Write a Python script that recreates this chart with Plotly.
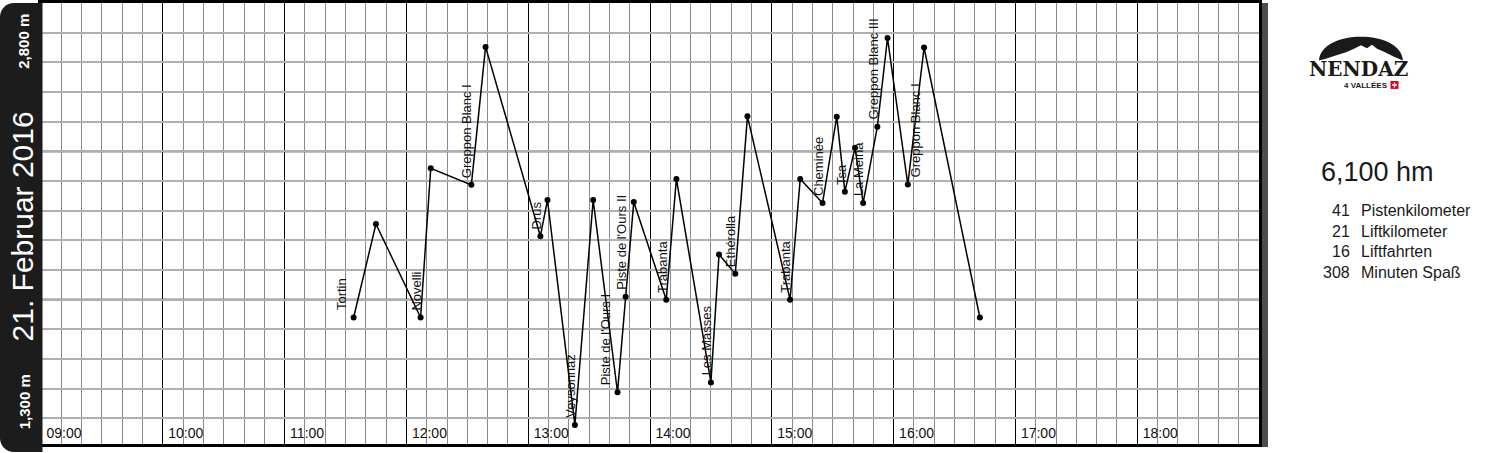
import plotly.graph_objects as go

# ---------------- data ----------------
day = "2016-02-21"
times = ["11:34", "11:45", "12:07", "12:12", "12:32", "12:39", "13:06", "13:09:30",
         "13:23", "13:32", "13:44", "13:48", "13:52", "14:08", "14:13", "14:30",
         "14:34", "14:42", "14:48", "15:09", "15:14", "15:25", "15:32", "15:36",
         "15:41", "15:45", "15:52", "15:57", "16:07", "16:15", "16:42:30"]
altitudes = [1740, 2055, 1740, 2243, 2187, 2652, 2014, 2136,
             1378, 2136, 1488, 1810, 2129, 1800, 2207, 1521,
             1952, 1887, 2418, 1800, 2207, 2126, 2417, 2164,
             2312, 2126, 2383, 2682, 2188, 2650, 1740]

run_names = ["Tortin", "Novelli", "Greppon Blanc I", "Drus", "Veysonnaz",
             "Piste de l'Ours I", "Piste de l'Ours II", "Trabanta", "Les Masses",
             "Ethérolla", "Trabanta", "Cheminée", "Tsa", "La Meina",
             "Greppon Blanc III", "Greppon Blanc I"]
run_point = [0, 2, 4, 6, 8, 10, 11, 13, 15, 17, 19, 21, 23, 25, 26, 28]

hour_labels = ["09:00", "10:00", "11:00", "12:00", "13:00", "14:00",
               "15:00", "16:00", "17:00", "18:00"]

date_title = "21. Februar 2016"
alt_max_label = "2,800 m"
alt_min_label = "1,300 m"
summary_title = "6,100 hm"
stat_values = ["41", "21", "16", "308"]
stat_names = ["Pistenkilometer", "Liftkilometer", "Liftfahrten", "Minuten Spaß"]

# ---------------- layout geometry ----------------
W, H = 1493, 453
L, R, T, B = 41, 1259, 0, 444
PW, PH = R - L, B - T


def px(xp):
    return (xp - L) / PW


def py(yp):
    return (B - yp) / PH


x_vals = [f"{day} {t}" if len(t) > 5 else f"{day} {t}:00" for t in times]

fig = go.Figure()
fig.add_trace(go.Scatter(
    x=x_vals, y=altitudes, mode="lines+markers",
    line=dict(color="black", width=1.5),
    marker=dict(color="black", size=6),
    hoverinfo="skip", showlegend=False, cliponaxis=False))

# run labels
label_dx = {0: -8, 5: -8, 15: 12}
annotations = []
for i, (name, p) in enumerate(zip(run_names, run_point)):
    annotations.append(dict(
        x=x_vals[p], y=altitudes[p], xref="x", yref="y",
        text=name, textangle=-90, showarrow=False,
        xanchor="center", yanchor="bottom",
        xshift=-4 + label_dx.get(i, 0), yshift=5,
        font=dict(family="Liberation Sans, Arial", size=13, color="#111")))

shapes = []
# thick lines at 1800 / 2300
for yv in (1800, 2300):
    shapes.append(dict(type="line", xref="paper", yref="y", x0=0, x1=1, y0=yv, y1=yv,
                       line=dict(color="black", width=2), layer="between"))

# left dark panel with rounded left corners
r = 14
x0p, x1p = 0, 42.5
y0p, y1p = 0, 452
k = 0.45


def P(a, b):
    return f"{px(a):.6f},{py(b):.6f}"


path = (f"M{P(x1p, y0p)} L{P(x0p + r, y0p)} "
        f"C{P(x0p + r * k, y0p)} {P(x0p, y0p + r * k)} {P(x0p, y0p + r)} "
        f"L{P(x0p, y1p - r)} "
        f"C{P(x0p, y1p - r * k)} {P(x0p + r * k, y1p)} {P(x0p + r, y1p)} "
        f"L{P(x1p, y1p)} Z")
shapes.append(dict(type="path", xref="paper", yref="paper", path=path,
                   fillcolor="#1c1c1c", line=dict(width=0), layer="above"))

# right dark bar
shapes.append(dict(type="rect", xref="paper", yref="paper",
                   x0=px(1262), x1=px(1268), y0=py(447), y1=py(0),
                   fillcolor="#4d4d4d", line=dict(width=0), layer="above"))

# logo: dome with mountain silhouette
dome = (f"M{P(1319, 58)} C{P(1321, 26)} {P(1401, 26)} {P(1403, 58)} "
        f"L{P(1394, 54)} L{P(1384, 49)} L{P(1377, 46)} L{P(1372, 42)} "
        f"L{P(1367, 45.5)} L{P(1361, 42.5)} L{P(1354, 46)} L{P(1346, 49.5)} "
        f"L{P(1335, 53)} L{P(1325, 56.5)} Z")
shapes.append(dict(type="path", xref="paper", yref="paper", path=dome,
                   fillcolor="#1a1a1a", line=dict(width=0), layer="above"))
# swiss flag
shapes.append(dict(type="rect", xref="paper", yref="paper",
                   x0=px(1390.5), x1=px(1398.5), y0=py(86.5), y1=py(78.5),
                   fillcolor="#e2001a", line=dict(width=0), layer="above"))
shapes.append(dict(type="rect", xref="paper", yref="paper",
                   x0=px(1393.8), x1=px(1395.2), y0=py(85), y1=py(80),
                   fillcolor="white", line=dict(width=0), layer="above"))
shapes.append(dict(type="rect", xref="paper", yref="paper",
                   x0=px(1392), x1=px(1397), y0=py(83.2), y1=py(81.8),
                   fillcolor="white", line=dict(width=0), layer="above"))

# left panel texts
annotations.append(dict(x=px(22), y=py(225), xref="paper", yref="paper",
                        text=date_title, textangle=-90, showarrow=False,
                        xanchor="center", yanchor="middle",
                        font=dict(family="Liberation Sans, Arial", size=30, color="white")))
annotations.append(dict(x=px(24), y=py(39), xref="paper", yref="paper",
                        text=f"<b>{alt_max_label}</b>", textangle=-90, showarrow=False,
                        xanchor="center", yanchor="middle",
                        font=dict(family="Liberation Sans, Arial", size=15, color="white")))
annotations.append(dict(x=px(24), y=py(402), xref="paper", yref="paper",
                        text=f"<b>{alt_min_label}</b>", textangle=-90, showarrow=False,
                        xanchor="center", yanchor="middle",
                        font=dict(family="Liberation Sans, Arial", size=15, color="white")))

# logo texts
annotations.append(dict(x=px(1359), y=py(66.5), xref="paper", yref="paper",
                        text="<b>NENDAZ</b>", showarrow=False,
                        xanchor="center", yanchor="middle", borderpad=0, borderwidth=0,
                        font=dict(family="DejaVu Serif", size=20, color="#1a1a1a")))
annotations.append(dict(x=px(1388.5), y=py(83), xref="paper", yref="paper",
                        text="<b>4 VALLÉES</b>", showarrow=False,
                        xanchor="right", yanchor="middle", borderpad=0, borderwidth=0,
                        font=dict(family="Liberation Sans, Arial", size=8, color="#1a1a1a")))

# summary
annotations.append(dict(x=px(1377.5), y=py(170), xref="paper", yref="paper",
                        text=summary_title, showarrow=False,
                        xanchor="center", yanchor="middle",
                        font=dict(family="Liberation Sans, Arial", size=27, color="#1a1a1a")))
for j, (v, n) in enumerate(zip(stat_values, stat_names)):
    yy = 209 + j * 20.7
    annotations.append(dict(x=px(1352), y=py(yy), xref="paper", yref="paper",
                            text=v, showarrow=False, xanchor="right", yanchor="middle",
                            font=dict(family="Liberation Sans, Arial", size=16, color="#1a1a1a")))
    annotations.append(dict(x=px(1359), y=py(yy), xref="paper", yref="paper",
                            text=n, showarrow=False, xanchor="left", yanchor="middle",
                            font=dict(family="Liberation Sans, Arial", size=16, color="#1a1a1a")))

fig.update_layout(
    width=W, height=H,
    margin=dict(l=L, r=W - R, t=T, b=H - B, pad=0),
    paper_bgcolor="white", plot_bgcolor="white",
    showlegend=False,
    shapes=shapes, annotations=annotations,
    xaxis=dict(
        type="date",
        range=[f"{day} 09:00", f"{day} 19:00"],
        tickmode="array",
        tickvals=[f"{day} {h}" for h in hour_labels],
        ticktext=hour_labels,
        ticklabelposition="inside right",
        ticklabelshift=4,
        ticks="", ticklen=0,
        tickfont=dict(family="Liberation Sans, Arial", size=14, color="#111"),
        showgrid=True, gridcolor="black", gridwidth=1,
        minor=dict(tickmode="linear", tick0=f"{day} 09:00", dtick=600000,
                   showgrid=True, gridcolor="#8a8a8a", gridwidth=1),
        showline=True, linecolor="black", linewidth=3, mirror=True,
        zeroline=False, fixedrange=True,
    ),
    yaxis=dict(
        range=[2800 - PH / 0.2987, 2800],
        tick0=1300, dtick=100,
        showticklabels=False, ticks="",
        showgrid=True, gridcolor="#b0b0b0", gridwidth=2,
        showline=True, linecolor="black", linewidth=3, mirror=True,
        zeroline=False, fixedrange=True,
    ),
)

fig.write_html(
    "out.html",
    config={"displayModeBar": False, "staticPlot": True},
    post_script="document.body.style.margin='0px';document.body.style.overflow='hidden';",
)
